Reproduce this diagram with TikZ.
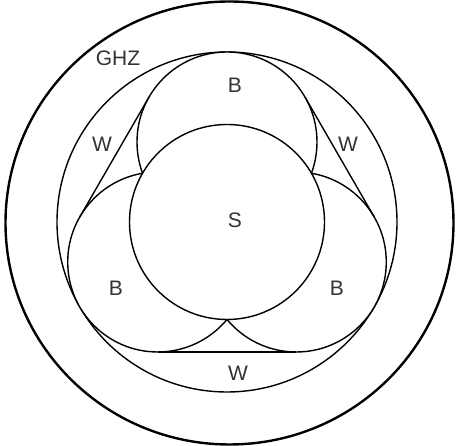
\documentclass[tikz,border=0pt]{standalone}
\usepackage{fontspec}
\setmainfont{Liberation Sans}
\usetikzlibrary{calc}
\definecolor{ink}{HTML}{333333}

\begin{document}
\begin{tikzpicture}[x=1pt,y=1pt]
\tikzstyle{ring}=[circle,draw,line width=1.4pt,inner sep=0pt,outer sep=0pt]
\tikzstyle{blob}=[ring,fill=white,minimum size=180pt]
\tikzstyle{lbl}=[text=ink,font=\fontsize{21}{25}\selectfont]
\tikzstyle{side}=[draw,line width=1.4pt]

\useasboundingbox (0,0) rectangle (456,446);
\coordinate (O) at (227,224);

% outer and inner sets
\draw[line width=2.4pt] (229.5,223) ellipse [x radius=224,y radius=221.5];
\node[ring,minimum size=340pt] (ghz) at (O) {};

% the three B sets and S on top
\node[blob] (bTop) at ($(O)+(90:80)$) {};
\node[blob] (bLeft) at ($(O)+(210:80)$) {};
\node[blob] (bRight) at ($(O)+(330:80)$) {};
\node[ring,fill=white,minimum size=195pt] (s) at (O) {};

% W sides
\path (bTop.150) edge[side] (bLeft.150);
\path (bTop.30) edge[side] (bRight.30);
\path (bLeft.270) edge[side] (bRight.270);

% labels
\node[lbl] (lGHZ) at (118,388) {GHZ};
\node[lbl] (lBTop) at (235,361) {B};
\node[lbl] (lBLeft) at (116,158) {B};
\node[lbl] (lBRight) at (337,158) {B};
\node[lbl] (lS) at (235,226) {S};
\node[lbl] (lWLeft) at (102,302) {W};
\node[lbl] (lWRight) at (348,302) {W};
\node[lbl] (lWBottom) at (238,73) {W};

\end{tikzpicture}
\end{document}
